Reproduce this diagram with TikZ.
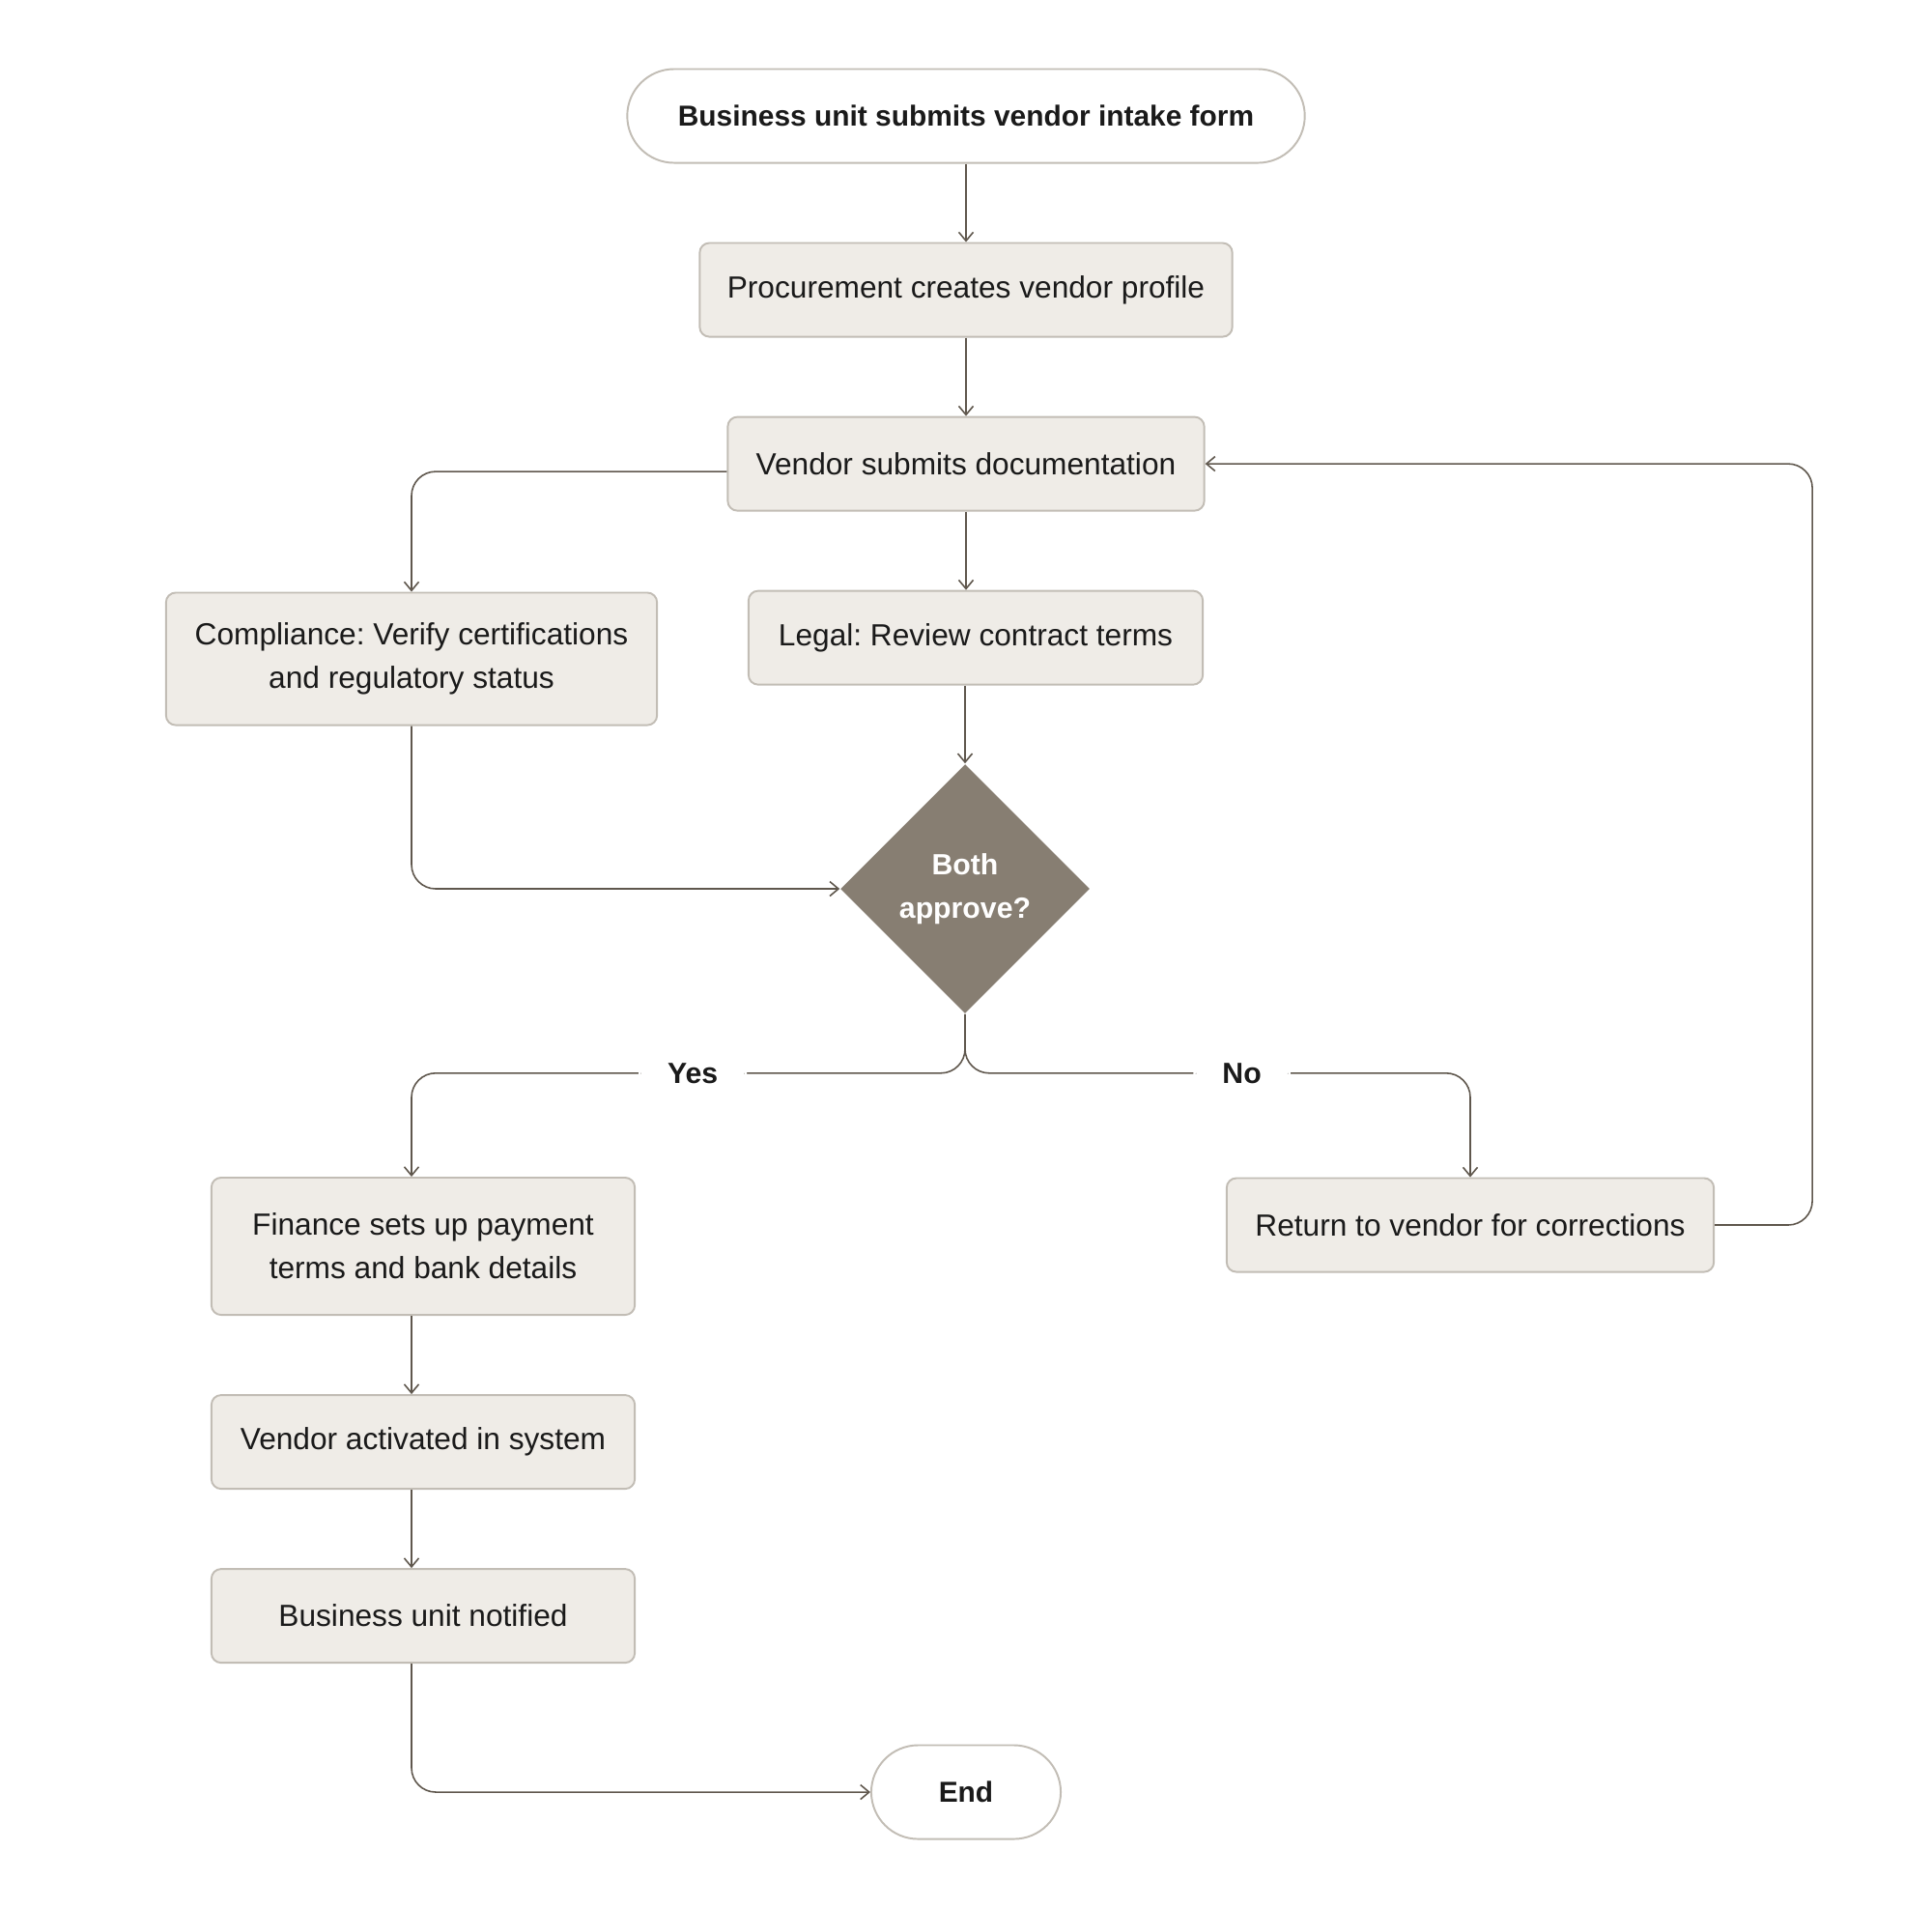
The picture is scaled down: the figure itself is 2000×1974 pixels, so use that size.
\documentclass[tikz,border=0pt]{standalone}
\usepackage{fontspec}
\setmainfont{Liberation Sans}
\usetikzlibrary{arrows.meta,positioning,shapes.geometric}

\definecolor{boxfill}{HTML}{EFECE7}
\definecolor{boxline}{HTML}{C2BDB5}
\definecolor{decfill}{HTML}{877E72}
\definecolor{linecol}{HTML}{5F574D}
\definecolor{ink}{HTML}{1A1A1A}

\begin{document}
\frenchspacing
\begin{tikzpicture}[
  x=0.01cm, y=-0.01cm,
  node distance=0.81cm,
  box/.style={draw=boxline, fill=boxfill, rounded corners=0.1cm, line width=0.55pt,
              minimum height=0.97cm, align=center, text=ink, inner xsep=0.2cm,
              font=\fontsize{9}{12.8}\selectfont},
  pill/.style={box, fill=white, rounded corners=0.485cm,
               font=\fontsize{8.5}{12.8}\selectfont\bfseries},
  decision/.style={diamond, fill=decfill, text=white, minimum width=2.58cm,
                   minimum height=2.58cm, inner sep=0pt, align=center,
                   font=\fontsize{8.6}{12.8}\selectfont\bfseries},
  lbl/.style={fill=white, text=ink, inner xsep=0.3cm, inner ysep=1pt,
              font=\fontsize{8.6}{12.8}\selectfont\bfseries},
  flow/.style={draw=linecol, line width=0.45pt, rounded corners=0.25cm,
               -{Straight Barb[length=0.9mm,width=1.5mm]}}
]
\useasboundingbox (0,0) rectangle (2000,1974);

% main column
\node[pill, minimum width=7.01cm] (start) at (1000,120) {Business unit submits vendor intake form};
\node[box, minimum width=5.51cm, below=of start] (proc) {Procurement creates vendor profile};
\node[box, minimum width=4.93cm, below=of proc] (vendor) {Vendor submits documentation};
\node[box, minimum width=4.70cm, below=of vendor, xshift=0.1cm] (legal) {Legal: Review contract terms};
\node[box, minimum width=5.08cm, minimum height=1.37cm] (compliance) at (426,682)
  {Compliance: Verify certifications\\and regulatory status};
\node[decision] (dec) at (999,920) {Both\\approve?};

% outcome branches
\node[box, minimum width=4.38cm, minimum height=1.42cm] (finance) at (438,1290)
  {Finance sets up payment\\terms and bank details};
\node[box, minimum width=4.38cm, below=of finance] (active) {Vendor activated in system};
\node[box, minimum width=4.38cm, below=of active] (notified) {Business unit notified};
\node[box, minimum width=5.04cm] (ret) at (1522,1268) {Return to vendor for corrections};
\node[pill, minimum width=1.96cm] (end) at (1000,1855) {End};

% connectors
\draw[flow] (start) -- (proc);
\draw[flow] (proc) -- (vendor);
\draw[flow] (vendor.south) -- (legal.north -| vendor.south);
\draw[flow] ([yshift=-0.08cm]vendor.west) -| (compliance.north);
\draw[flow] (legal.south -| dec.north) -- (dec.north);
\draw[flow] (compliance.south) |- (dec.west);
\draw[flow] (dec.south) -- ++(0,61) -| node[lbl, pos=0.246] {Yes} (finance.north -| compliance.south);
\draw[flow] (dec.south) -- ++(0,61) -| node[lbl, pos=0.274] {No} (ret.north);
\draw[flow] (ret.east) -- ++(101,0) |- (vendor.east);
\draw[flow] (finance.south -| compliance.south) -- (active.north -| compliance.south);
\draw[flow] (active.south -| compliance.south) -- (notified.north -| compliance.south);
\draw[flow] (notified.south -| compliance.south) |- (end.west);
\end{tikzpicture}
\end{document}
